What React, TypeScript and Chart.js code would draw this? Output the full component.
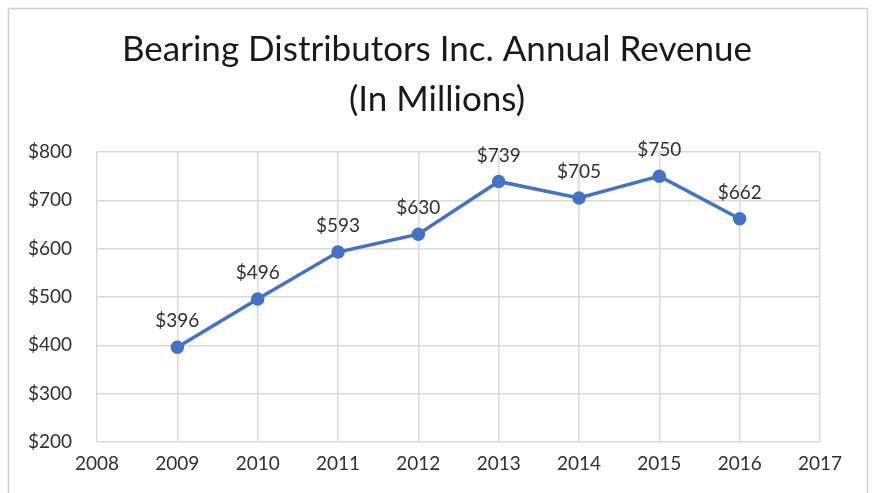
import React, { useEffect, useRef } from "react";
import { Chart, registerables } from "chart.js";

Chart.register(...registerables);

const titleLines = ["Bearing Distributors Inc. Annual Revenue", "(In Millions)"];
const years = [2009, 2010, 2011, 2012, 2013, 2014, 2015, 2016];
const revenue = [396, 496, 593, 630, 739, 705, 750, 662];
const yTicks = [200, 300, 400, 500, 600, 700, 800];
const xRange = [2008, 2017];

const FONT = "Lato";

export default function App() {
  const ref = useRef<HTMLCanvasElement | null>(null);
  useEffect(() => {
    if (!ref.current) return;
    const frame = {
      id: "frame",
      beforeDraw(chart: any) {
        const ctx = chart.ctx;
        ctx.save();
        ctx.fillStyle = "#ffffff";
        ctx.fillRect(0, 0, chart.width, chart.height);
        ctx.strokeStyle = "#d0d0d0";
        ctx.lineWidth = 1.5;
        ctx.strokeRect(8.5, 8.5, 859, 520);
        ctx.fillStyle = "#1a1a1a";
        ctx.font = `35px ${FONT}`;
        ctx.textAlign = "center";
        ctx.textBaseline = "middle";
        ctx.fillText(titleLines[0], 437, 50);
        ctx.fillText(titleLines[1], 437, 100);
        ctx.restore();
      },
      afterDatasetsDraw(chart: any) {
        const ctx = chart.ctx;
        const meta = chart.getDatasetMeta(0);
        ctx.save();
        ctx.fillStyle = "#303030";
        ctx.font = `19px ${FONT}`;
        ctx.textAlign = "center";
        ctx.textBaseline = "middle";
        meta.data.forEach((pt: any, i: number) => {
          ctx.fillText("$" + revenue[i], pt.x, pt.y - 26);
        });
        ctx.restore();
      },
    };
    const chart = new Chart(ref.current, {
      type: "line",
      data: {
        datasets: [
          {
            data: years.map((y, i) => ({ x: y, y: revenue[i] })),
            borderColor: "#4472C4",
            backgroundColor: "#4472C4",
            borderWidth: 3.5,
            pointRadius: 5,
            pointHoverRadius: 5,
            tension: 0,
          },
        ],
      },
      options: {
        animation: false,
        responsive: false,
        layout: { padding: { top: 152, right: 52, left: 0, bottom: 0 } },
        plugins: { legend: { display: false }, tooltip: { enabled: false }, title: { display: false } },
        scales: {
          x: {
            type: "linear",
            min: xRange[0],
            max: xRange[1],
            ticks: {
              stepSize: 1,
              callback: (v: any) => String(v),
              color: "#303030",
              font: { family: FONT, size: 19 },
              padding: 10,
            },
            grid: { color: "#d9d9d9", lineWidth: 1.5, drawTicks: false },
            border: { display: false },
            afterFit: (s: any) => { s.height = 51; },
          },
          y: {
            min: yTicks[0],
            max: yTicks[yTicks.length - 1],
            afterBuildTicks: (s: any) => { s.ticks = yTicks.map((v) => ({ value: v })); },
            ticks: {
              callback: (v: any) => "$" + v,
              color: "#303030",
              font: { family: FONT, size: 19 },
              padding: 25,
            },
            grid: { color: "#d9d9d9", lineWidth: 1.5, drawTicks: false },
            border: { display: false },
            afterFit: (s: any) => { s.width = 97; },
          },
        },
      },
      plugins: [frame],
    });
    return () => chart.destroy();
  }, []);
  return (
    <canvas
      ref={ref}
      width={872}
      height={493}
      style={{ position: "fixed", left: 0, top: 0, width: 872, height: 493 }}
    />
  );
}
